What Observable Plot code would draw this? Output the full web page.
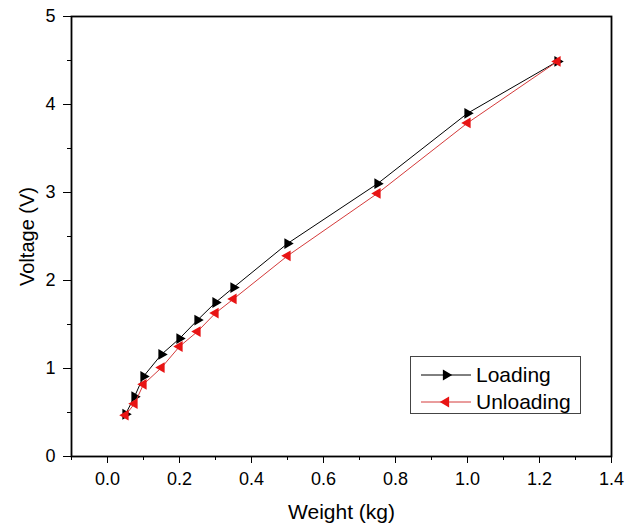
<!DOCTYPE html>
<html>
<head>
<meta charset="utf-8">
<script src="https://cdn.jsdelivr.net/npm/d3@7"></script>
<script src="https://cdn.jsdelivr.net/npm/@observablehq/plot@0.6"></script>
<style>
  html, body { margin: 0; padding: 0; background: white; }
  #wrap { position: relative; width: 625px; height: 527px; font-family: "Liberation Sans", Arial, sans-serif; }
  #legend { position: absolute; left: 410px; top: 356px; width: 169px; height: 56px; border: 1px solid #444; background: white; }
</style>
</head>
<body>
<div id="wrap"></div>
<script>
// Data
const weight = [0.05, 0.075, 0.1, 0.15, 0.2, 0.25, 0.3, 0.35, 0.5, 0.75, 1.0, 1.25];
const loading = [0.48, 0.68, 0.91, 1.16, 1.34, 1.55, 1.75, 1.92, 2.42, 3.10, 3.90, 4.49];
const unloading = [0.47, 0.60, 0.82, 1.01, 1.25, 1.42, 1.63, 1.79, 2.28, 2.99, 3.79, 4.49];
const seriesNames = ["Loading", "Unloading"];
const seriesColors = ["black", "#e81414"];
const lineColors = ["black", "#d43a3a"];
const xTitle = "Weight (kg)";
const yTitle = "Voltage (V)";
const xTicks = [0, 0.2, 0.4, 0.6, 0.8, 1.0, 1.2, 1.4];
const xMinorTicks = [-0.1, 0.1, 0.3, 0.5, 0.7, 0.9, 1.1, 1.3];
const yTicks = [0, 1, 2, 3, 4, 5];
const yMinorTicks = [0.5, 1.5, 2.5, 3.5, 4.5];

const loadRows = weight.map((w, i) => ({w, v: loading[i]}));
const unloadRows = weight.map((w, i) => ({w, v: unloading[i]}));

const chart = Plot.plot({
  width: 625,
  height: 527,
  marginLeft: 71,
  marginRight: 14,
  marginTop: 16,
  marginBottom: 71,
  x: {domain: [-0.1, 1.4]},
  y: {domain: [0, 5]},
  style: {fontFamily: "'Liberation Sans', Arial, sans-serif", fontSize: "18px", color: "black", background: "white"},
  marks: [
    Plot.axisX({ticks: xMinorTicks, tickSize: 4, tickFormat: () => "", label: null}),
    Plot.axisY({ticks: yMinorTicks, tickSize: 4, tickFormat: () => "", label: null}),
    Plot.axisX({ticks: xTicks, tickSize: 7, tickPadding: 9, tickFormat: d3.format(".1f"), label: null, fontSize: 18}),
    Plot.axisY({ticks: yTicks, tickSize: 8, tickPadding: 8, tickFormat: d3.format("d"), label: null, fontSize: 18}),
    Plot.text([xTitle], {frameAnchor: "bottom", dy: 62, fontSize: 21, text: d => d}),
    Plot.axisY({ticks: [], tickSize: 0, label: yTitle, labelAnchor: "center", labelArrow: "none", labelOffset: 52, fontSize: 20}),
    Plot.frame({stroke: "black", strokeWidth: 1.8}),
    Plot.line(loadRows, {x: "w", y: "v", stroke: lineColors[0], strokeWidth: 1}),
    Plot.dot(loadRows, {x: "w", y: "v", symbol: "triangle", r: 4, rotate: 90, fill: seriesColors[0], stroke: "none"}),
    Plot.line(unloadRows, {x: "w", y: "v", stroke: lineColors[1], strokeWidth: 1}),
    Plot.dot(unloadRows, {x: "w", y: "v", symbol: "triangle", r: 4, rotate: -90, fill: seriesColors[1], stroke: "none"})
  ]
});

const wrap = document.getElementById("wrap");
wrap.appendChild(chart);

// Legend
const legend = document.createElement("div");
legend.id = "legend";
const ns = "http://www.w3.org/2000/svg";
const svg = document.createElementNS(ns, "svg");
svg.setAttribute("width", 169);
svg.setAttribute("height", 56);
seriesNames.forEach((name, i) => {
  const cy = 18 + i * 27;
  const line = document.createElementNS(ns, "line");
  line.setAttribute("x1", 10); line.setAttribute("x2", 60);
  line.setAttribute("y1", cy); line.setAttribute("y2", cy);
  line.setAttribute("stroke", lineColors[i]); line.setAttribute("stroke-width", 1);
  svg.appendChild(line);
  const tri = document.createElementNS(ns, "path");
  tri.setAttribute("d", d3.symbol(d3.symbolTriangle, Math.PI * 4 * 4)());
  tri.setAttribute("transform", `translate(35,${cy}) rotate(${i === 0 ? 90 : -90})`);
  tri.setAttribute("fill", seriesColors[i]);
  svg.appendChild(tri);
  const t = document.createElementNS(ns, "text");
  t.setAttribute("x", 65); t.setAttribute("y", cy);
  t.setAttribute("dy", "0.35em");
  t.setAttribute("font-size", "21px");
  t.setAttribute("font-family", "'Liberation Sans', Arial, sans-serif");
  t.textContent = name;
  svg.appendChild(t);
});
legend.appendChild(svg);
wrap.appendChild(legend);
</script>
</body>
</html>
